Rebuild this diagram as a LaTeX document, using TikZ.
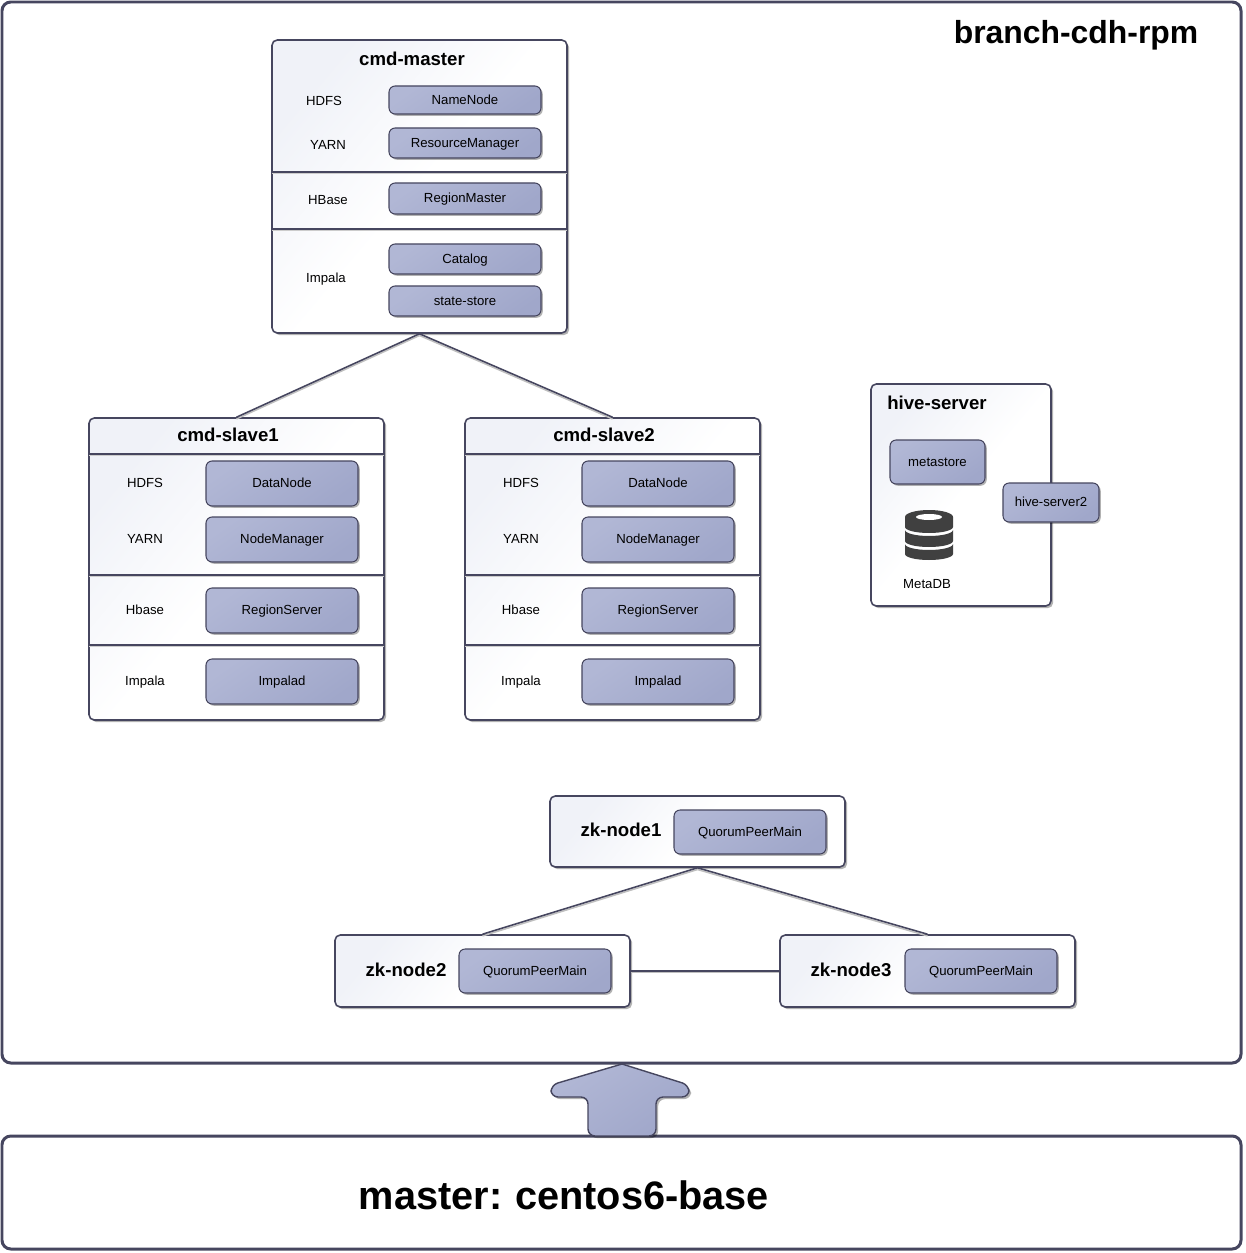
\documentclass[tikz,border=0pt]{standalone}
\usepackage{fontspec}
\setmainfont{Liberation Sans}
\usetikzlibrary{shadows}
\definecolor{edge}{HTML}{46465F}
\definecolor{bluelight}{HTML}{B1B7D5}
\definecolor{bluedark}{HTML}{A0A7CA}
\definecolor{panellight}{HTML}{F0F2F8}
\definecolor{dbgray}{HTML}{404040}
\tikzset{
  frame/.style 2 args={draw=edge,line width=1.7pt,rounded corners=5pt,fill=white,
    minimum width=#1*0.02cm,minimum height=#2*0.02cm,inner sep=0pt},
  panel/.style 2 args={draw=edge,line width=0.9pt,rounded corners=3pt,
    top color=panellight,bottom color=white,middle color=white,shading angle=50,
    drop shadow={shadow xshift=1.2pt,shadow yshift=-1.2pt,fill=black,opacity=0.3},
    minimum width=#1*0.02cm,minimum height=#2*0.02cm,inner sep=0pt},
  service/.style 2 args={draw=edge,line width=0.6pt,rounded corners=3.5pt,
    top color=bluelight,bottom color=bluedark,shading angle=35,
    drop shadow={shadow xshift=1pt,shadow yshift=-1pt,fill=black,opacity=0.3},
    minimum width=#1*0.02cm,minimum height=#2*0.02cm,inner sep=0pt,
    text height=6pt,text depth=1pt,font=\fontsize{7.5}{9}\selectfont},
  tag/.style={inner sep=0pt,text height=7.5pt,text depth=1pt,font=\fontsize{7.5}{9}\selectfont},
  title/.style={inner sep=0pt,font=\fontsize{10.6}{13}\selectfont\bfseries},
  link/.style={draw=edge,line width=0.9pt,preaction={draw=black!25,line width=0.8pt,transform canvas={yshift=-1pt}}},
  divider/.style={draw=edge,line width=0.8pt,preaction={draw=black!20,line width=0.8pt,transform canvas={yshift=-1pt}}},
}
\begin{document}
\begin{tikzpicture}[x=0.02cm,y=-0.02cm]
\useasboundingbox (0,0) rectangle (1246,1253);
% outer frames
\node [frame={1239}{1061}] (branch) at (621.5,532.5) {};
\node [frame={1239}{113}] (base) at (621.5,1192.5) {};
\node [inner sep=0pt,font=\fontsize{18.15}{22}\selectfont\bfseries] (branchname) at (1076,35.5) {branch-cdh-rpm};
\node [inner sep=0pt,font=\fontsize{22.6}{27}\selectfont\bfseries] (basename) at (564,1195.5) {master:\hspace{-1pt} centos6-base};
\draw [draw=edge,line width=0.8pt,top color=bluelight,bottom color=bluedark,shading angle=35,
  drop shadow={shadow xshift=1.2pt,shadow yshift=-1.2pt,fill=black,opacity=0.3}]
  (622,1136) [rounded corners=4pt] -- (588,1136) -- (588,1097) -- (551,1097) -- (551,1085) [sharp corners] -- (622,1064)
  [rounded corners=4pt] -- (689,1085) -- (689,1097) -- (656,1097) -- (656,1136) [sharp corners] -- cycle;

% cmd-master
\node [panel={295}{293}] (master) at (419.5,186.5) {};
\draw [divider] (272,172) -- (567,172);
\draw [divider] (272,229) -- (567,229);
\node [title] (mastername) at (412,59) {cmd-master};
\node [tag] (mhdfs) at (324,100) {HDFS};
\node [tag] (myarn) at (328,144) {YARN};
\node [tag] (mhbase) at (328,199) {HBase};
\node [tag] (mimpala) at (326,276.5) {Impala};
\node [service={152}{28}] (namenode) at (465,100) {NameNode};
\node [service={152}{30}] (rm) at (465,143) {ResourceManager};
\node [service={152}{31}] (regionmaster) at (465,198.5) {RegionMaster};
\node [service={152}{30}] (catalog) at (465,259) {Catalog};
\node [service={152}{30}] (statestore) at (465,301) {state-store};

% cmd-slave1
\node [panel={295}{302}] (slave1) at (236.5,569) {};
\draw [divider] (89,454) -- (384,454);
\draw [divider] (89,575) -- (384,575);
\draw [divider] (89,645) -- (384,645);
\node [title] (slave1name) at (228,435) {cmd-slave1};
\node [tag] (ahdfs) at (145,482) {HDFS};
\node [tag] (ayarn) at (145,538) {YARN};
\node [tag] (ahbase) at (145,609) {Hbase};
\node [tag] (aimpala) at (145,680) {Impala};
\node [service={152}{45}] (adata) at (282,483.5) {DataNode};
\node [service={152}{45}] (anode) at (282,539.5) {NodeManager};
\node [service={152}{45}] (aregion) at (282,610.5) {RegionServer};
\node [service={152}{45}] (aimpalad) at (282,681.5) {Impalad};

% cmd-slave2
\node [panel={295}{302}] (slave2) at (612.5,569) {};
\draw [divider] (465,454) -- (760,454);
\draw [divider] (465,575) -- (760,575);
\draw [divider] (465,645) -- (760,645);
\node [title] (slave2name) at (604,435) {cmd-slave2};
\node [tag] (bhdfs) at (521,482) {HDFS};
\node [tag] (byarn) at (521,538) {YARN};
\node [tag] (bhbase) at (521,609) {Hbase};
\node [tag] (bimpala) at (521,680) {Impala};
\node [service={152}{45}] (bdata) at (658,483.5) {DataNode};
\node [service={152}{45}] (bnode) at (658,539.5) {NodeManager};
\node [service={152}{45}] (bregion) at (658,610.5) {RegionServer};
\node [service={152}{45}] (bimpalad) at (658,681.5) {Impalad};

\draw [link] (master.south) -- (slave1.north);
\draw [link] (master.south) -- (slave2.north);

% hive-server
\node [panel={180}{222}] (hive) at (961,495) {};
\node [title] (hivename) at (937,403) {hive-server};
\node [service={95}{44}] (metastore) at (937.5,462) {metastore};
\node [service={96}{39}] (hiveserver) at (1051,502.5) {hive-server2};
\fill [dbgray] (905,517) arc [start angle=180,end angle=360,x radius=24,y radius=7] -- (953,527)
  arc [start angle=0,end angle=180,x radius=24,y radius=6] -- cycle;
\fill [white] (929,517) ellipse [x radius=13,y radius=3];
\fill [dbgray] (905,530) -- (905,541) arc [start angle=180,end angle=0,x radius=24,y radius=6] -- (953,530)
  arc [start angle=0,end angle=180,x radius=24,y radius=6] -- cycle;
\fill [dbgray] (905,544) -- (905,554) arc [start angle=180,end angle=0,x radius=24,y radius=6] -- (953,544)
  arc [start angle=0,end angle=180,x radius=24,y radius=6] -- cycle;
\node [tag] (metadb) at (927,583) {MetaDB};

% zookeeper
\node [panel={295}{71}] (zk1) at (697.5,831.5) {};
\node [panel={295}{72}] (zk2) at (482.5,971) {};
\node [panel={295}{72}] (zk3) at (927.5,971) {};
\node [title] (zk1name) at (621,830) {zk-node1};
\node [title] (zk2name) at (406,970) {zk-node2};
\node [title] (zk3name) at (851,970) {zk-node3};
\node [service={152}{44}] (quorum1) at (750,832) {QuorumPeerMain};
\node [service={152}{44}] (quorum2) at (535,971) {QuorumPeerMain};
\node [service={152}{44}] (quorum3) at (981,971) {QuorumPeerMain};
\draw [link] (zk1.south) -- (zk2.north);
\draw [link] (zk1.south) -- (zk3.north);
\draw [link] (zk2.east) -- (zk3.west);
\end{tikzpicture}
\end{document}
